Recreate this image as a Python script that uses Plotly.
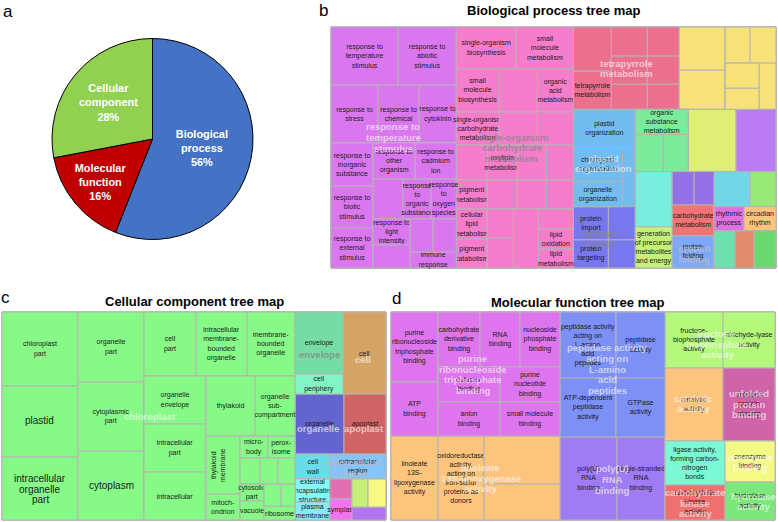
import plotly.graph_objects as go

W, H = 778, 522
FONT = "Liberation Sans, Arial, Helvetica, sans-serif"

# ---------------- panel a : pie ----------------
pie_labels = ["Biological<br>process", "Molecular<br>function", "Cellular<br>component"]
pie_values = [56, 16, 28]
pie_colors = ["#4472c4", "#c00000", "#92d050"]

# ---------------- panel b : Biological process tree map ----------------
P, K, R, Y = "#da77ef", "#f67dcc", "#ec6f8e", "#f7e27a"
BL, PI, GR, LI, PU2 = "#72bcf0", "#7878ee", "#7aeb9a", "#dcee74", "#b97cf2"
CY, GE, PB, CM, PF = "#7aeedc", "#c6f07c", "#9270e6", "#f07474", "#7ea8f8"
CB, G3, RH, CI, TE, BR, G2 = "#70d6e8", "#98e878", "#e070e0", "#fcc47c", "#6ee0b0", "#e08c6c", "#6cd870"

bp_tree = [
    [
        [("response to<br>temperature<br>stimulus", 3886, P), ("response to<br>abiotic<br>stimulus", 3364, P)],
        [("response to<br>stress", 2726, P), ("response to<br>chemical", 2378, P), ("response to<br>cytokinin", 2146, P)],
        [
            [("response to<br>inorganic<br>substance", 1806, P), ("response to<br>biotic<br>stimulus", 1764, P),
             ("response to<br>external<br>stimulus", 1680, P)],
            [
                [("response to<br>other<br>organism", 1512, P), ("response to<br>cadmium<br>ion", 1476, P)],
                [("", 1200, P), ("response<br>to<br>organic<br>substance", 1120, P), ("response<br>to<br>oxygen<br>species", 1000, P)],
                [
                    [("response to<br>light<br>intensity", 962, P), ("", 851, P)],
                    [[("", 759, P), ("", 759, P)], ("immune<br>response", 736, P)],
                ],
            ],
        ],
    ],
    [
        [("single-organism<br>biosynthesis", 2520, K), ("small<br>molecule<br>metabolism", 2394, K)],
        [("small<br>molecule<br>biosynthesis", 1849, K), ("", 1634, K), ("organic<br>acid<br>metabolism", 1548, K)],
        [("single-organism<br>carbohydrate<br>metabolism", 1419, K), ("", 1254, K), ("", 1188, K)],
        [("", 1085, K), ("oxylipin<br>metabolism", 1050, K), ("", 1015, K), ("", 945, K)],
        [
            [("pigment<br>metabolism", 899, K), ("cellular<br>lipid<br>metabolism", 930, K), ("pigment<br>catabolism", 899, K)],
            [
                [("", 870, K), ("", 841, K), ("", 783, K)],
                [[("", 754, K), ("", 780, K)], ("", 1475, K),
                 [("", 700, K), ("lipid<br>oxidation", 700, K), ("lipid<br>metabolism", 665, K)]],
            ],
        ],
    ],
    [
        [
            [("", 1672, R), ("tetrapyrrole<br>metabolism", 1444, R)],
            [("", 1044, R), ("", 1008, R), ("", 900, R)],
            [("", 928, R), ("", 896, R), ("", 800, R)],
            [("", 1978, Y), ("", 1794, Y)],
            [[("", 900, Y), ("", 936, Y)], [[("", 850, Y), ("", 714, Y)], ("", 782, Y)]],
        ],
        [
            [
                ("plastid<br>organization", 2356, BL),
                [[("chloroplast<br>organization", 1666, BL), ("organelle<br>organization", 1225, BL)], ("", 767, BL)],
                [("protein<br>import", 1155, PI), ("", 891, PI)],
                [("protein<br>targeting", 980, PI), ("", 756, PI)],
            ],
            [
                [[("organic<br>substance<br>metabolism", 1325, GR), [("", 1036, GR), ("", 925, GR)]],
                 ("", 2976, LI), ("", 2480, PU2)],
                [
                    [("", 2035, CY), ("generation<br>of precursor<br>metabolites<br>and energy", 1517, GE)],
                    [[("", 726, PB), ("", 660, PB)], ("carbohydrate<br>metabolism", 1302, CM), ("protein<br>folding", 1344, PF)],
                    [[("", 1260, CB), ("", 910, G3)], [("rhythmic<br>process", 720, RH), ("circadian<br>rhythm", 768, CI)],
                     [("", 777, TE), ("", 703, BR), ("", 814, G2)]],
                ],
            ],
        ],
    ],
]

# ---------------- panel c : Cellular component tree map ----------------
G = "#86f986"
EN, CP, CE, OG, AP = "#74dca4", "#80f4c4", "#d4a464", "#6464d0", "#d06464"
CW, ER, EE, PM, PK = "#68dce8", "#84c4f8", "#84f8f8", "#84ecf8", "#e070b0"
SY, LM, YE, PR = "#f074f0", "#c8f078", "#f8f884", "#b474f0"

cc_tree = [
    [("chloroplast<br>part", 5624, G), ("", 5396, G), ("", 4788, G)],
    [("organelle<br>part", 4620, G), ("cytoplasmic<br>part", 4554, G), ("", 4554, G)],
    [
        [("cell<br>part", 3328, G), ("intracellular<br>membrane-<br>bounded<br>organelle", 3264, G),
         ("membrane-<br>bounded<br>organelle", 3072, G)],
        [
            [("organelle<br>envelope", 2976, G), ("intracellular<br>part", 2976, G), ("intracellular", 2976, G)],
            [
                [("thylakoid", 2940, G), ("organelle<br>sub-<br>compartment", 2400, G)],
                [
                    [("", 1972, G), ("mitoch-<br>ondrion", 884, G)],
                    [
                        [("micro-<br>body", 616, G), ("perox-<br>isome", 594, G)],
                        [("", 520, G), ("", 468, G), ("", 442, G)],
                        [[("cytosolic<br>part", 408, G), ("vacuole", 456, G)],
                         [[("", 374, G), ("", 308, G)], ("ribosome", 434, G)]],
                    ],
                ],
            ],
        ],
    ],
    [
        [[("envelope", 2976, EN), ("cell<br>periphery", 960, CP)], ("cell", 3526, CE)],
        [("organelle", 2940, OG), ("apoplast", 2520, AP)],
        [("cell<br>wall", 875, CW), ("extracellular<br>region", 1400, ER)],
        [[("external<br>encapsulating<br>structure", 805, EE), ("plasma<br>membrane", 630, PM)],
         [("", 440, PK), ("symplast", 462, SY)],
         [[("", 448, LM), ("", 504, YE)], ("", 442, PR)]],
    ],
]

# ---------------- panel d : Molecular function tree map ----------------
MG, OR, BU, PU = "#de74ee", "#fcc47c", "#7c90f6", "#a07cf4"
FL, UN, LG, CK, CO, HY = "#b4f87c", "#d064a8", "#7cf8d4", "#f07070", "#f4f884", "#7ce87c"

mf_tree = [
    [
        [
            [("purine<br>ribonucleoside<br>triphosphate<br>binding", 3290, MG), ("ATP<br>binding", 2538, MG)],
            [
                [("carbohydrate<br>derivative<br>binding", 2310, MG), ("RNA<br>binding", 2200, MG),
                 ("nucleoside<br>phosphate<br>binding", 2200, MG)],
                [("cofactor<br>binding", 2170, MG), ("purine<br>nucleotide<br>binding", 2100, MG)],
                [("anion<br>binding", 2108, MG), ("small molecule<br>binding", 2040, MG)],
            ],
        ],
        [("linoleate<br>13S-<br>lipoxygenase<br>activity", 3948, OR),
         ("oxidoreductase<br>activity,<br>acting on<br>iron-sulfur<br>proteins as<br>donors", 3864, OR),
         [("", 3648, OR), ("", 2736, OR)]],
    ],
    [
        [[("peptidase activity<br>acting on<br>L-amino<br>acid<br>peptides", 3696, BU),
          ("ATP-dependent<br>peptidase<br>activity", 3304, BU)],
         [("peptidase<br>activity", 3234, BU), ("GTPase<br>activity", 2891, BU)]],
        [("poly(U)<br>RNA<br>binding", 4731, PU), ("single-stranded<br>RNA<br>binding", 3984, PU)],
    ],
    [
        [("fructose-<br>biophosphate<br>activity", 3248, FL), ("aldehyde-lyase<br>activity", 2912, FL)],
        [("catalytic<br>activity", 4234, OR), ("unfolded<br>protein<br>binding", 3796, UN)],
        [[("ligase activity,<br>forming carbon-<br>nitrogen<br>bonds", 2640, LG), ("carbohydrate<br>kinase<br>activity", 2100, CK)],
         [("coenzyme<br>binding", 2050, CO), ("hydrolase<br>activity", 1900, HY)]],
    ],
]

# group labels drawn over the tree maps: (lines, centre x, centre y, tone)
overlays = [
    (["response to", "temperature", "stimulus"], 393, 137.5, "light"),
    (["single-organism", "carbohydrate", "metabolism"], 512, 148, "grey"),
    (["tetrapyrrole", "metabolism"], 626, 68.5, "light"),
    (["plastid", "organization"], 603, 163.5, "light"),
    (["protein", "import"], 600, 238.5, "grey"),
    (["protein", "folding"], 694, 254, "pale"),
    (["chloroplast"], 150, 416, "light"),
    (["envelope"], 319, 354, "grey"),
    (["cell"], 363, 359, "light"),
    (["organelle"], 318, 428, "light"),
    (["apoplast"], 364, 428, "light"),
    (["extracellular", "region"], 353, 468, "pale"),
    (["purine", "ribonucleoside", "triphosphate", "binding"], 473, 374.5, "light"),
    (["linoleate", "13S-lipoxygenase", "activity"], 481, 478, "light"),
    (["peptidase activity", "acting on", "L-amino", "acid", "peptides"], 607, 369, "light"),
    (["poly(U)", "RNA", "binding"], 612, 479.5, "light"),
    (["fructose-", "bisphosphate", "activity"], 717, 344, "light"),
    (["catalytic", "activity"], 693, 403.5, "light"),
    (["unfolded", "protein", "binding"], 749, 404, "light"),
    (["coenzyme", "binding"], 750, 462.5, "light"),
    (["carbohydrate", "kinase", "activity"], 695, 503, "light"),
    (["hydrolase", "activity"], 753, 501.5, "light"),
]
tones = {"light": "rgba(255,255,255,0.62)", "grey": "rgba(135,135,135,0.8)", "pale": "rgba(185,185,200,0.85)"}

# larger cell labels of the cellular component map: (lines, centre x, centre y)
big_cells = [
    (["plastid"], 39, 420),
    (["intracellular", "organelle", "part"], 40, 489),
    (["cytoplasm"], 111, 485),
]


def flatten(tree, prefix):
    out = {"ids": [], "parents": [], "text": [], "values": [], "colors": []}
    count = [0]

    def walk(node, parent):
        count[0] += 1
        nid = f"{prefix}{count[0]}"
        out["ids"].append(nid)
        out["parents"].append(parent)
        if isinstance(node, list):
            out["text"].append("")
            out["values"].append(0)
            out["colors"].append("#cccccc")
            for ch in node:
                walk(ch, nid)
        else:
            out["text"].append(node[0])
            out["values"].append(node[1])
            out["colors"].append(node[2])

    walk(tree, "")
    return out


def px(x0, x1):
    return [x0 / W, x1 / W]


def py(y0, y1):
    return [1 - y1 / H, 1 - y0 / H]


def treemap(tree, prefix, xr, yr):
    d = flatten(tree, prefix)
    return go.Treemap(
        ids=d["ids"], labels=d["ids"], parents=d["parents"], values=d["values"],
        text=d["text"], texttemplate="%{text}", textposition="middle center",
        textfont=dict(family=FONT, size=7, color="#1a1a1a"),
        marker=dict(colors=d["colors"], line=dict(color="#b4b4b4", width=1),
                    pad=dict(t=0, l=0, r=0, b=0), depthfade=False),
        tiling=dict(packing="slice-dice", pad=0),
        sort=False, branchvalues="remainder", pathbar=dict(visible=False),
        hoverinfo="none", domain=dict(x=xr, y=yr),
    )


fig = go.Figure()
fig.add_trace(go.Pie(
    labels=pie_labels, values=pie_values, sort=False, direction="clockwise", rotation=0,
    marker=dict(colors=pie_colors, line=dict(color="#000000", width=1)),
    texttemplate="%{label}<br>%{value}%", textposition="inside", insidetextorientation="horizontal",
    textfont=dict(family=FONT, size=12.5, color="white", weight="bold"),
    hoverinfo="none", showlegend=False,
    domain=dict(x=px(52, 253), y=py(38, 240)),
))
fig.add_trace(treemap(bp_tree, "b", px(331, 776), py(27, 268)))
fig.add_trace(treemap(cc_tree, "c", px(2, 386), py(312, 520)))
fig.add_trace(treemap(mf_tree, "d", px(391, 775), py(312, 520)))

ann = []


def text_at(t, x, y, size, color="#000000", bold=False, angle=0):
    ann.append(dict(text=t, x=x / W, y=1 - y / H, xref="paper", yref="paper", showarrow=False,
                    xanchor="center", yanchor="middle", textangle=angle,
                    font=dict(family=FONT, size=size, color=color, weight="bold" if bold else "normal")))


for letter, x, y in [("a", 8, 12), ("b", 323, 10), ("c", 5, 297), ("d", 396, 298)]:
    text_at(letter, x, y, 17)
for title, x, y in [("Biological process tree map", 553, 11), ("Cellular component tree map", 194, 301),
                    ("Molecular function tree map", 577, 302)]:
    text_at(title, x, y, 13, bold=True)

for lines, cx, cy in big_cells:
    n = len(lines)
    for i, line in enumerate(lines):
        text_at(line, cx, cy + (i - (n - 1) / 2) * 10.5, 10, "#1a1a1a")

for lines, cx, cy, tone in overlays:
    n = len(lines)
    for i, line in enumerate(lines):
        text_at(line, cx, cy + (i - (n - 1) / 2) * 10.8, 9.5, tones[tone], bold=True)

text_at("thylakoid<br>membrane", 218, 465, 7, "#1a1a1a", angle=-90)

fig.update_layout(width=W, height=H, margin=dict(l=0, r=0, t=0, b=0),
                  paper_bgcolor="white", plot_bgcolor="white", annotations=ann,
                  font=dict(family=FONT), uniformtext=dict(minsize=7, mode="show"))
fig.write_html("out.html", config={"displayModeBar": False},
               post_script="document.body.style.margin='0px';")
